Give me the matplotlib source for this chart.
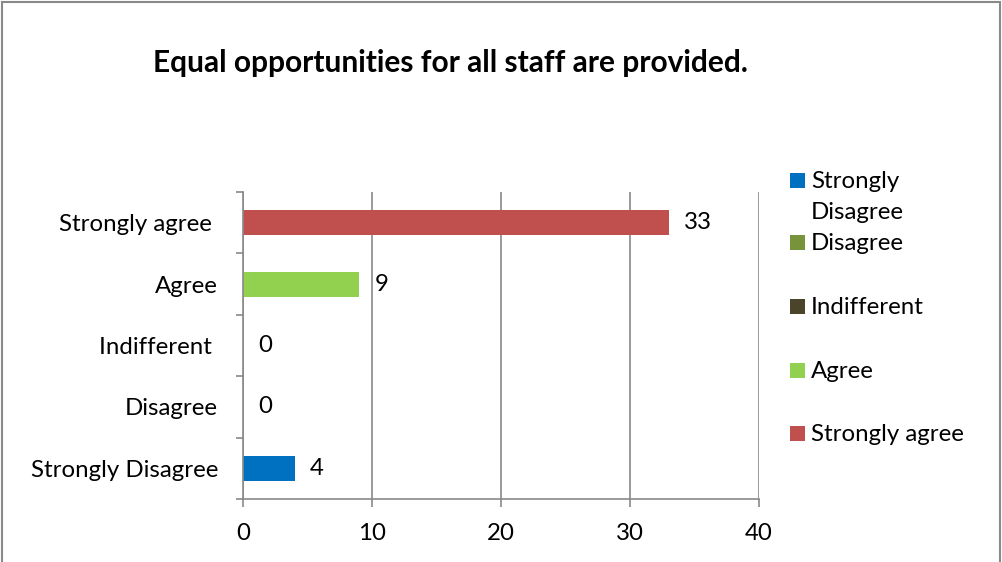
import matplotlib.pyplot as plt
from matplotlib.patches import Rectangle

plt.rcParams['font.family'] = ['Lato', 'DejaVu Sans']

# Dados
categorias = ['Strongly Disagree', 'Disagree', 'Indifferent ', 'Agree', 'Strongly agree ']
legendas = ['Strongly\nDisagree', 'Disagree', 'Indifferent', 'Agree', 'Strongly agree']
valores = [4, 0, 0, 9, 33]
cores = ['#0070C0', '#77933C', '#4A452A', '#92D050', '#C0504D']
ticks_x = [0, 10, 20, 30, 40]

cinza = '#898989'
fonte = 17.3

fig = plt.figure(figsize=(10.03, 5.62), dpi=100)
ax = fig.add_axes([243 / 1003, 1 - 499 / 562, (759 - 243) / 1003, (499 - 192) / 562])

pos = list(range(len(categorias)))
barras = ax.barh(pos, valores, height=0.41, color=cores)
ax.bar_label(barras, padding=11, fontsize=fonte)

ax.set_xlim(0, 40)
ax.set_ylim(-0.5, len(categorias) - 0.5)
ax.set_xticks(ticks_x)
ax.set_yticks(pos)
ax.set_yticklabels(categorias)
ax.set_yticks([p - 0.5 for p in pos] + [len(categorias) - 0.5], minor=True)
ax.tick_params(axis='y', which='major', length=0, pad=18, labelsize=fonte)
ax.tick_params(axis='y', which='minor', length=5, width=1.2, color=cinza)
ax.tick_params(axis='x', length=6, width=1.2, color=cinza, pad=11.5, labelsize=fonte)

ax.grid(axis='x', color=cinza, linewidth=1.2)
ax.set_axisbelow(True)
for lado in ['top', 'right']:
    ax.spines[lado].set_visible(False)
for lado in ['left', 'bottom']:
    ax.spines[lado].set_color(cinza)
    ax.spines[lado].set_linewidth(1.2)

# Título
fig.text(450 / 1003, 1 - 63 / 562, 'Equal opportunities for all staff are provided.',
         ha='center', va='center', fontsize=21.5, fontweight='bold')

# Legenda manual (estilo Excel)
for i, (nome, cor) in enumerate(zip(legendas, cores)):
    y = 182 if i == 0 else 244 + (i - 1) * 63.5
    fig.add_artist(Rectangle((790 / 1003, 1 - (y + 6.5) / 562), 15 / 1003, 15 / 562,
                             transform=fig.transFigure, facecolor=cor, edgecolor='none'))
    fig.text(811 / 1003, 1 - y / 562, nome.split('\n')[0], ha='left', va='center',
             fontsize=fonte)
    if '\n' in nome:
        fig.text(811 / 1003, 1 - (y + 31) / 562, nome.split('\n')[1], ha='left',
                 va='center', fontsize=fonte)

# Moldura do gráfico
fig.add_artist(Rectangle((2 / 1003, -0.05), 998 / 1003, 1.05 - 1.5 / 562,
                         transform=fig.transFigure, fill=False, edgecolor=cinza, linewidth=1.5))

fig.savefig('out.png', dpi=100)
